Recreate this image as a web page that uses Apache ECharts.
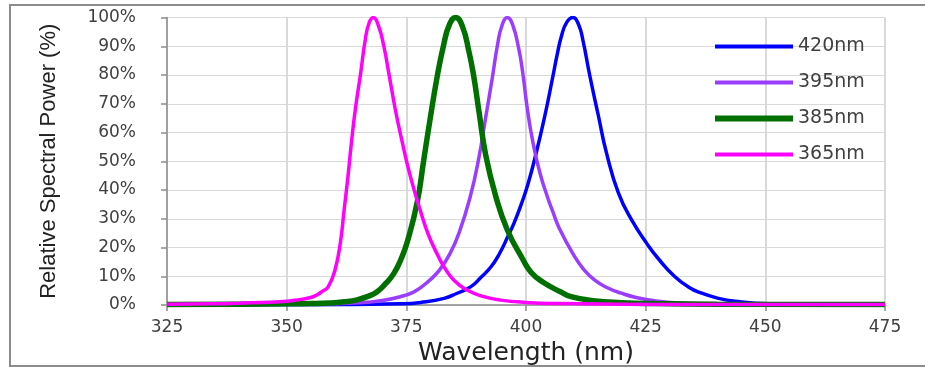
<!DOCTYPE html>
<html>
<head>
    <meta charset="utf-8">
    <title>Relative Spectral Power</title>
    <script src="https://cdn.jsdelivr.net/npm/echarts@6/dist/echarts.min.js"></script>
    <style type="text/css">
        *{margin: 0;padding: 0;}
        body{background: #fff;overflow: hidden;}
        #main{width: 925px;height: 367px;}
    </style>
</head>
<body>
<div id="main"></div>
<script type="text/javascript">
    // 数据
    var xTicks = [325, 350, 375, 400, 425, 450, 475];
    var names = ['420nm', '395nm', '385nm', '365nm'];

    var wl420 = [325, 350, 365, 373.8, 378, 382.9, 385.5, 388.5, 390.5, 392.7, 394.5, 396.2, 397.5, 399, 400.4, 402, 403.9, 405.6, 406.5, 407.4, 408.5, 409.8, 411, 411.9, 413.3, 415.1, 416.8, 419.3, 422.1, 425.4, 427.7, 431, 434, 436.7, 440, 443.7, 450.7, 460, 475];
    var p420  = [0, 0.1, 0.2, 0.4, 0.9, 2.3, 4, 6.4, 9.5, 13.3, 18, 23.8, 28.5, 35, 42, 52, 65.5, 79.4, 87, 93.5, 98.3, 100, 97.5, 92, 80, 66, 53, 39, 29.5, 21, 16, 10, 6.2, 4.1, 2.4, 1.3, 0.4, 0.2, 0.1];

    var wl395 = [325, 345, 355, 365, 370, 373.8, 376.5, 378.6, 380, 382, 384, 386, 388.4, 390.2, 391.6, 393, 394, 395, 396.1, 397.2, 398.5, 399.3, 400.3, 401.4, 402.9, 404.5, 405.6, 407, 410.1, 412, 414.3, 417, 419.9, 423, 426.8, 432, 440, 455, 475];
    var p395  = [0.1, 0.2, 0.3, 0.8, 1.6, 2.9, 4.5, 6.8, 8.8, 12.3, 17.5, 25, 38, 51.6, 65.5, 79.4, 90, 97.3, 100, 97.5, 89, 81, 68, 57, 46, 37.5, 32.5, 26.5, 17, 12.5, 8.7, 6, 4.1, 2.6, 1.5, 0.7, 0.3, 0.2, 0.1];

    var wl385 = [325, 340, 350, 355, 359.1, 362, 364.7, 367, 368.9, 370.7, 372.4, 373.9, 375.3, 377.3, 378.6, 380, 381.4, 382.8, 384, 385.3, 386.7, 388.1, 389.1, 390.2, 391.6, 393.7, 396.1, 399.3, 401, 403.5, 407.3, 409.4, 414, 420, 427, 440, 475];
    var p385  = [0.2, 0.3, 0.4, 0.5, 0.7, 1.1, 1.8, 3, 4.6, 7.5, 11, 16, 22.5, 36, 50, 65, 79, 90.5, 97.5, 100, 97, 88, 79.4, 67, 52, 37.7, 26.1, 16, 11.5, 8, 4.5, 2.9, 1.5, 0.8, 0.5, 0.3, 0.2];

    var wl365 = [325, 335, 340, 345, 348.6, 352, 355, 356.3, 357.5, 358.7, 360.1, 361.2, 362, 362.8, 363.5, 364.3, 365.4, 366.4, 367.2, 368.1, 369.2, 370.3, 371.3, 372.7, 374.1, 375.8, 377.9, 379.6, 381.8, 382.8, 385, 387.7, 391, 394.7, 400, 407, 420, 440, 475];
    var p365  = [0.3, 0.4, 0.6, 0.9, 1.1, 1.7, 2.6, 3.5, 4.8, 6.4, 12.2, 21.5, 33, 44.6, 56, 67.5, 80, 92, 98, 100, 97, 90, 81, 68, 57, 45, 33, 24.5, 16.5, 13.5, 8.5, 5.2, 3, 1.7, 0.9, 0.5, 0.3, 0.2, 0.2];

    function pairs(xs, ys){
        var out = [];
        for(var i=0;i<xs.length;i++){
            out.push([xs[i], ys[i]]);
        }
        return out;
    }

    var myChart = echarts.init(document.getElementById('main'));
    var lab = '#404040';
    var thin = 'path://M0,0L78,0L78,4L0,4Z';
    var thick = 'path://M0,0L78,0L78,6L0,6Z';
    var option = {
        animation: false,
        backgroundColor: '#fff',
        graphic: [{
            type: 'rect',
            shape: {x: 10, y: 5, width: 930, height: 361},
            style: {fill: 'none', stroke: '#8c8c8c', lineWidth: 2}
        }],
        grid: {
            left: 167,
            right: 40,
            top: 17.5,
            bottom: 62,
            outerBoundsMode: 'none'
        },
        legend: {
            orient: 'vertical',
            left: 710,
            top: 32,
            itemWidth: 78,
            itemHeight: 18,
            itemGap: 17,
            data: [
                {name: names[0], icon: thin},
                {name: names[1], icon: thin},
                {name: names[2], icon: thick},
                {name: names[3], icon: thin}
            ],
            textStyle: {
                fontFamily: 'DejaVu Sans',
                fontSize: 19,
                lineHeight: 18,
                color: lab,
                padding: [0, 0, 0, 0]
            }
        },
        xAxis: {
            type: 'value',
            min: xTicks[0],
            max: xTicks[xTicks.length - 1],
            interval: 25,
            name: 'Wavelength (nm)',
            nameLocation: 'middle',
            nameGap: 19,
            nameTextStyle: {
                fontFamily: 'DejaVu Sans',
                fontSize: 25,
                color: '#222'
            },
            axisLine: {lineStyle: {color: '#8c8c8c', width: 1.5}},
            axisTick: {show: true, length: 6, lineStyle: {color: '#8c8c8c', width: 1.5}},
            axisLabel: {
                margin: 14,
                fontFamily: 'DejaVu Sans',
                fontSize: 17,
                color: lab
            },
            splitLine: {show: true, lineStyle: {color: '#d9d9d9', width: 2}}
        },
        yAxis: {
            type: 'value',
            min: 0,
            max: 100,
            interval: 10,
            name: 'Relative Spectral Power (%)',
            nameLocation: 'middle',
            nameGap: 107,
            nameTextStyle: {
                fontFamily: 'Liberation Sans',
                fontSize: 22,
                color: '#222'
            },
            axisLine: {show: true, lineStyle: {color: '#8c8c8c', width: 1.5}},
            axisTick: {show: true, length: 6, lineStyle: {color: '#8c8c8c', width: 1.5}},
            axisLabel: {
                margin: 31,
                fontFamily: 'DejaVu Sans',
                fontSize: 17,
                color: lab,
                formatter: '{value}%'
            },
            splitLine: {show: true, lineStyle: {color: '#d9d9d9', width: 1}}
        },
        series: [{
            name: names[0],
            type: 'line',
            symbol: 'none',
            smooth: 0.5,
            color: '#0000ff',
            lineStyle: {color: '#0000ff', width: 3.5},
            data: pairs(wl420, p420)
        },{
            name: names[1],
            type: 'line',
            symbol: 'none',
            smooth: 0.5,
            color: '#9b3dff',
            lineStyle: {color: '#9b3dff', width: 3.5},
            data: pairs(wl395, p395)
        },{
            name: names[2],
            type: 'line',
            symbol: 'none',
            smooth: 0.5,
            color: '#007000',
            lineStyle: {color: '#007000', width: 5.5},
            data: pairs(wl385, p385)
        },{
            name: names[3],
            type: 'line',
            symbol: 'none',
            smooth: 0.5,
            color: '#ff00ff',
            lineStyle: {color: '#ff00ff', width: 3.5},
            data: pairs(wl365, p365)
        }]
    };
    myChart.setOption(option);
</script>
</body>
</html>
